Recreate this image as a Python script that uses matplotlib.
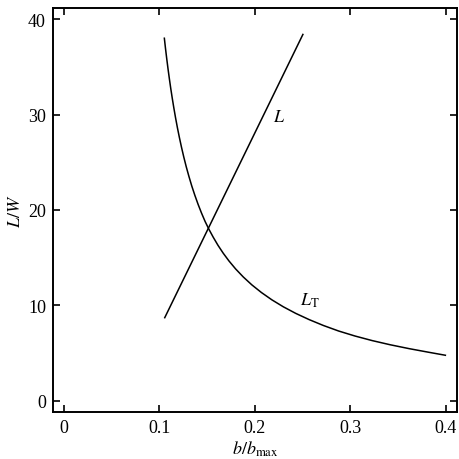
import matplotlib
matplotlib.use('Agg')
import matplotlib.pyplot as plt

plt.rcParams['font.family'] = 'Liberation Serif'
plt.rcParams['mathtext.fontset'] = 'stix'

# straight line L
l_x = [0.1057, 0.2505]
l_y = [8.7, 38.4]

# curve L_T
lt_x = [0.1053, 0.1065, 0.1078, 0.1092, 0.1106, 0.1120, 0.1136, 0.1152, 0.1170,
        0.1190, 0.1210, 0.1232, 0.1256, 0.1282, 0.1310, 0.1340, 0.1372, 0.1406,
        0.1442, 0.1480, 0.1520, 0.1565, 0.1615, 0.1670, 0.1730, 0.1800, 0.1880,
        0.1970, 0.2070, 0.2180, 0.2300, 0.2430, 0.2570, 0.2720, 0.2880, 0.3050,
        0.3230, 0.3420, 0.3620, 0.3820, 0.3998]
lt_y = [38.0, 36.93, 35.85, 34.75, 33.72, 32.74, 31.7, 30.72, 29.68,
        28.61, 27.62, 26.6, 25.57, 24.54, 23.53, 22.52, 21.55, 20.6,
        19.68, 18.79, 17.97, 17.14, 16.29, 15.46, 14.65, 13.81, 12.97,
        12.14, 11.34, 10.57, 9.84, 9.15, 8.5, 7.88, 7.3, 6.78,
        6.3, 5.86, 5.45, 5.08, 4.76]

xticks = [0, 0.1, 0.2, 0.3, 0.4]
xtick_labels = ['0', '0.1', '0.2', '0.3', '0.4']
yticks = [0, 10, 20, 30, 40]

fig = plt.figure(figsize=(4.6, 4.6), dpi=100)
ax = fig.add_axes([0.115, 0.103, 0.8785, 0.877])

ax.plot(l_x, l_y, color='black', lw=1.1)
ax.plot(lt_x, lt_y, color='black', lw=1.1)

ax.text(0.2256, 29.8, r'$L$', fontsize=13, ha='center', va='center')
ax.text(0.258, 10.6, r'$L_{\rm T}$', fontsize=13, ha='center', va='center')

ax.set_xlim(-0.0115, 0.412)
ax.set_ylim(-1.15, 41.15)
ax.set_xticks(xticks)
ax.set_xticklabels(xtick_labels)
ax.set_yticks(yticks)

ax.tick_params(direction='in', top=True, right=True, length=5, width=1.2,
               labelsize=13, pad=5)
for s in ax.spines.values():
    s.set_linewidth(1.4)

ax.set_xlabel(r'$b/b_{\rm max}$', fontsize=13, labelpad=2)
ax.set_ylabel(r'$L/W$', fontsize=13, labelpad=3)

fig.savefig('out.png', dpi=100)
